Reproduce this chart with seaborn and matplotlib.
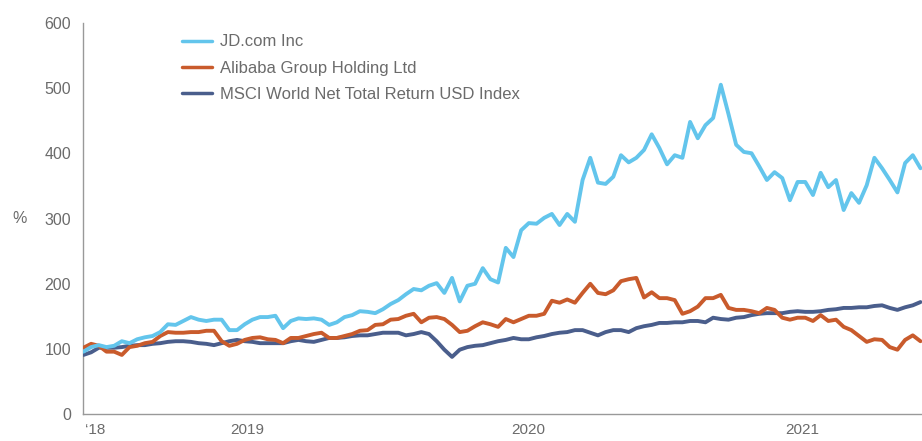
import pandas as pd
import numpy as np
import matplotlib.pyplot as plt
import matplotlib.dates as mdates
import seaborn as sns

# 10-day sampling from 1 Dec 2018 (start ~100)
dates = pd.date_range("2018-12-01", periods=110, freq="10D")

jd = [96, 103, 106, 103, 105, 112, 109, 115, 118, 120,
      126, 138, 137, 143, 149, 145, 143, 145, 145, 129,
      129, 138, 145, 149, 149, 151, 132, 143, 147, 146,
      147, 145, 137, 141, 149, 152, 158, 157, 155, 161,
      169, 175, 184, 192, 190, 197, 201, 186, 209, 173,
      197, 200, 224, 207, 202, 255, 241, 282, 293, 292,
      301, 307, 290, 307, 295, 359, 393, 355, 353, 364,
      397, 386, 393, 405, 429, 408, 383, 397, 393, 448,
      423, 443, 454, 505, 460, 413, 402, 400, 380, 359,
      371, 362, 328, 356, 356, 336, 370, 348, 359, 313,
      339, 324, 351, 393, 377, 359, 340, 385, 397, 377]

baba = [102, 108, 105, 96, 96, 91, 103, 105, 109, 111,
        120, 126, 125, 125, 126, 126, 128, 128, 112, 105,
        108, 114, 117, 118, 115, 114, 109, 117, 117, 120,
        123, 125, 117, 117, 120, 123, 128, 129, 137, 138,
        145, 146, 151, 154, 141, 148, 149, 146, 137, 126,
        128, 135, 141, 138, 134, 146, 141, 146, 151, 151,
        154, 174, 171, 176, 171, 186, 200, 186, 184, 190,
        204, 207, 209, 179, 187, 178, 178, 175, 154, 158,
        165, 178, 178, 183, 163, 160, 160, 158, 155, 163,
        160, 148, 145, 148, 148, 143, 152, 143, 145, 134,
        129, 120, 111, 115, 114, 103, 99, 114, 121, 112]

msci = [91, 95, 102, 102, 102, 103, 105, 106, 106, 108,
        109, 111, 112, 112, 111, 109, 108, 106, 109, 112,
        114, 112, 111, 109, 109, 109, 109, 112, 114, 112,
        111, 114, 117, 117, 118, 120, 121, 121, 123, 125,
        125, 125, 121, 123, 126, 123, 112, 99, 88, 99,
        103, 105, 106, 109, 112, 114, 117, 115, 115, 118,
        120, 123, 125, 126, 129, 129, 125, 121, 126, 129,
        129, 126, 132, 135, 137, 140, 140, 141, 141, 143,
        143, 141, 148, 146, 145, 148, 149, 152, 154, 155,
        155, 155, 157, 158, 157, 157, 158, 160, 161, 163,
        163, 164, 164, 166, 167, 163, 160, 164, 167, 172]

names = ["JD.com Inc", "Alibaba Group Holding Ltd", "MSCI World Net Total Return USD Index"]
colors = ["#63C5EC", "#C95B2C", "#4A5E8C"]

year_ticks = pd.to_datetime(["2018-12-01", "2019-01-01", "2020-01-01", "2021-01-01"])
label_pos = pd.to_datetime(["2018-12-16", "2019-07-02", "2020-07-02", "2021-06-24"])
label_txt = ["\u201818", "2019", "2020", "2021"]

sns.set_style("white")
plt.rcParams["font.family"] = ["Liberation Sans", "DejaVu Sans"]
gray = "#6b6b6b"

fig = plt.figure(figsize=(9.22, 4.41), dpi=100)
ax = fig.add_axes([0.0905, 0.0605, 0.9095, 0.888])

series = {names[0]: jd, names[1]: baba, names[2]: msci}
# draw index first so JD sits on top
for i in [2, 1, 0]:
    df = pd.DataFrame({"date": dates, "value": series[names[i]]})
    sns.lineplot(data=df, x="date", y="value", ax=ax, color=colors[i],
                 linewidth=2.8, label=names[i], zorder=3 + (2 - i))

ax.set_ylim(0, 600)
ax.set_xlim(pd.Timestamp("2018-12-01"), pd.Timestamp("2021-11-27"))
ax.set_yticks(range(0, 601, 100))
ax.set_xticks(year_ticks)
ax.set_xticklabels([])
ax.set_xticks(label_pos, minor=True)
ax.set_xticklabels(label_txt, minor=True)
ax.tick_params(axis="x", which="minor", length=0, pad=6, labelsize=11, labelcolor=gray)
ax.tick_params(axis="x", which="major", length=7, color="#bbbbbb", width=0.8)
ax.tick_params(axis="y", length=5, color="#999999", width=0.8, labelsize=11.5,
               labelcolor=gray, pad=4)
ax.set_xlabel("")
ax.set_ylabel("")
fig.text(0.021, 1 - 218.5 / 441, "%", fontsize=11.5, color=gray, ha="center", va="center")

for s in ["top", "right"]:
    ax.spines[s].set_visible(False)
ax.spines["left"].set_color("#999999")
ax.spines["bottom"].set_color("#999999")
ax.spines["left"].set_linewidth(1.0)
ax.spines["bottom"].set_linewidth(1.0)

handles, labels = ax.get_legend_handles_labels()
order = [labels.index(n) for n in names]
leg = ax.legend([handles[k] for k in order], names, loc="upper left",
                bbox_to_anchor=(0.197, 0.922), bbox_transform=fig.transFigure,
                frameon=False, fontsize=12, handlelength=1.8, handletextpad=0.5,
                labelspacing=0.68, borderaxespad=0, borderpad=0)
for t in leg.get_texts():
    t.set_color(gray)
for l in leg.get_lines():
    l.set_linewidth(2.5)

fig.savefig("out.png", dpi=100)
